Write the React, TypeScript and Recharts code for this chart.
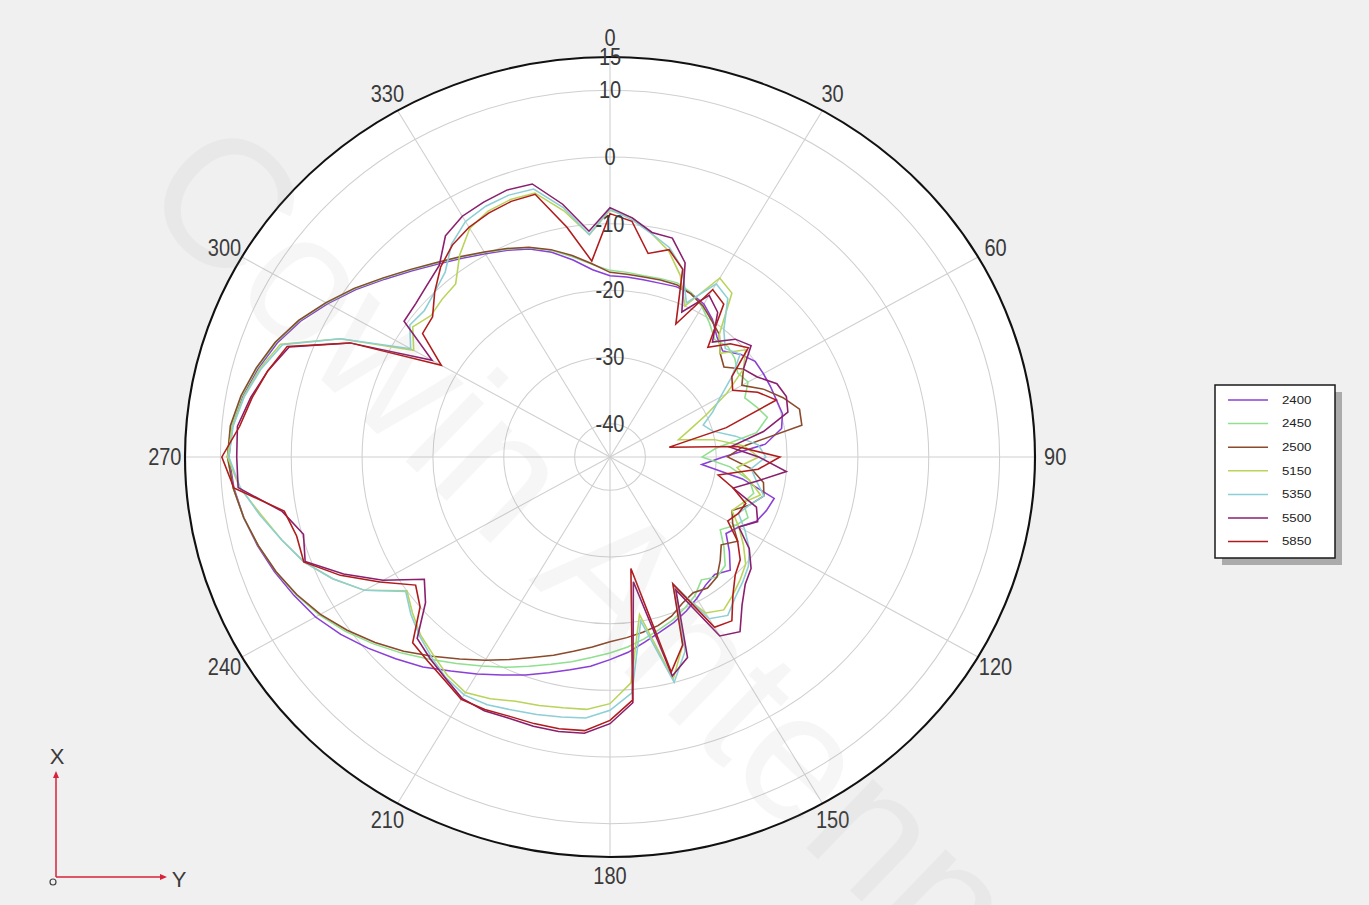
import React from 'react'
import { PolarAngleAxis, PolarGrid, PolarRadiusAxis, Radar, RadarChart } from 'recharts'

// polar plot geometry (the source picture is stretched a little in x)
const CX = 610
const CY = 457
const OUTER = 400
const STRETCH = 1.0625
const FONT = '"Liberation Sans", Arial, sans-serif'

const dbDomain = [-45, 15]
const ringLevels = [-40, -30, -20, -10, 0, 10]
const radiusLabels = [-40, -30, -20, -10, 0, 10, 15]
const spokeAngles = [0, 30, 60, 90, 120, 150, 180, 210, 240, 270, 300, 330]

// measurement angles, 5 degree steps, clockwise from top
const angles = Array.from({ length: 72 }, (_, i) => i * 5)

const gain2400 = [
  -17.8, -17.9, -18, -18, -17.8, -17.9, -18.5, -19.8, -21.5, -22.5,
  -21, -20, -20, -20, -20, -19.8, -20.4, -23, -29, -32,
  -26, -21, -21.5, -22.2, -24, -25, -23, -21, -22, -21.5,
  -20.5, -19.5, -18.6, -17.8, -16.8, -15.6, -14.6, -13.5, -12.6, -11.5,
  -10.2, -8.9, -7.4, -5.8, -3.9, -2.2, -0.4, 1.4, 3.0, 4.2,
  5.4, 6.5, 7.5, 8.3, 8.8, 8.5, 7.6, 6.4, 5.0, 3.2,
  1.0, -1.2, -3.5, -5.5, -7.2, -8.6, -9.8, -10.8, -11.8, -13.2,
  -15.0, -16.8
]
const gain2450 = [
  -17, -17.2, -17.4, -17.3, -17.2, -17.8, -19, -20.5, -22, -21.5,
  -22, -23, -22.5, -24, -23, -22, -24, -30, -32, -28,
  -25, -24, -25, -23.5, -24.5, -26, -24, -22, -21.5, -22.5,
  -21, -20, -19, -18.2, -17.3, -16.4, -15.6, -14.8, -13.8, -12.8,
  -11.6, -10.2, -8.8, -7.2, -5.4, -3.4, -1.4, 0.6, 2.4, 3.9,
  5.2, 6.4, 7.5, 8.4, 9.0, 8.7, 7.8, 6.6, 5.2, 3.4,
  1.2, -1.0, -3.3, -5.3, -7.0, -8.4, -9.6, -10.6, -11.6, -12.9,
  -14.5, -16
]
const gain2500 = [
  -17.3, -17.5, -17.6, -17.5, -17.5, -18, -18.8, -20, -21, -23,
  -24, -22, -23.5, -21, -19, -17.3, -17.5, -26, -28.4, -25,
  -23, -22.5, -24, -26, -25, -23, -24.5, -23, -21.5, -21,
  -21.5, -20.8, -19.6, -18.8, -18.3, -17.8, -17.3, -16.4, -15.4, -14.2,
  -13, -11.5, -9.8, -8, -6, -3.8, -1.7, 0.3, 2.2, 3.8,
  5.2, 6.4, 7.5, 8.4, 9.0, 8.8, 7.9, 6.7, 5.3, 3.5,
  1.3, -0.9, -3.2, -5.2, -6.9, -8.3, -9.5, -10.5, -11.5, -12.8,
  -14.3, -15.9
]
const gain5150 = [
  -8, -9, -11, -13, -16, -20, -14, -15, -21, -23,
  -20, -22, -26, -30, -33, -35, -30, -26, -24, -27,
  -25, -23, -25, -26, -24, -22, -20, -19, -18, -17,
  -18, -23, -15, -10.5, -21, -11, -8, -7, -6.8, -6.4,
  -6, -5, -4.2, -5, -6.2, -7.2, -8.6, -10, -5, -1.8,
  1, 3, 5, 7.5, 9, 8.5, 7.5, 6.2, 4.5, -3,
  -13, -11, -12, -11.5, -11.1, -8, -5.4, -4.3, -3.9, -4,
  -7.5, -11.5
]
const gain5350 = [
  -7.8, -9.3, -11, -12.5, -15, -19.5, -15, -16, -20, -22,
  -21, -24, -27, -29, -31, -30, -27, -24, -23, -25,
  -24, -22.5, -24, -25, -23, -21, -19.5, -18.5, -17.5, -16,
  -17, -24, -14, -10, -20, -9.5, -7, -5.7, -5.4, -5,
  -4.6, -4, -3.8, -4.6, -5.8, -7, -8.3, -9.8, -5, -1.8,
  1, 3, 5.2, 7.4, 8.8, 8.4, 7.4, 6, 4.2, -3,
  -12.5, -10.5, -10.8, -10, -8.8, -6, -4.2, -3.5, -3.2, -3.4,
  -7, -11.5
]
const gain5500 = [
  -7.6, -9, -10.8, -11, -14, -21, -17, -18.5, -22.5, -20,
  -19, -22, -21, -19, -18.5, -19, -23, -28, -24, -20,
  -24, -27, -23, -22, -24, -21, -19, -18, -16, -13,
  -14, -23, -13, -11, -26, -8, -5, -3.4, -3.2, -3.2,
  -3.3, -3, -3.2, -4.5, -5.5, -6.5, -11, -13, -8, -3.5,
  0.8, -0.2, 2, 7.7, 7.7, 7.8, 6.5, 5, 3.2, -4.5,
  -16, -9.5, -9.2, -8.5, -7.5, -4.5, -3.3, -2.8, -2.4, -2.6,
  -6.5, -11
]
const gain5850 = [
  -8.5, -9.5, -14, -12.8, -15, -23, -16, -17, -23.5, -21,
  -19.5, -24, -25, -22, -20, -28, -36.5, -27, -21, -24,
  -29.5, -27, -24.6, -25, -25.8, -23, -21, -20, -18, -15,
  -15.5, -24, -15, -11.6, -28, -8.4, -5.5, -3.8, -3.6, -3.6,
  -3.6, -3.2, -3.0, -4.2, -5, -5.6, -10, -11.5, -7.5, -3,
  1.0, 0.8, 1.7, 8.3, 9.8, 7.5, 6.3, 5.0, 3.5, -4.5,
  -17.5, -12.7, -12.3, -10, -7.8, -6.2, -5.2, -4.6, -4.2, -4.2,
  -10, -15.5
]

const series = [
  { name: '2400', color: '#8a3fd6', values: gain2400 },
  { name: '2450', color: '#8fe08f', values: gain2450 },
  { name: '2500', color: '#8b4a2b', values: gain2500 },
  { name: '5150', color: '#b9d45a', values: gain5150 },
  { name: '5350', color: '#8ccfd6', values: gain5350 },
  { name: '5500', color: '#8a1f6e', values: gain5500 },
  { name: '5850', color: '#b01c1c', values: gain5850 }
]

const rows = angles.map((angle, i) => {
  const row: Record<string, number> = { angle }
  series.forEach((s) => {
    row[s.name] = s.values[i]
  })
  return row
})

const dbToRadius = (v: number) => ((v - dbDomain[0]) / (dbDomain[1] - dbDomain[0])) * OUTER

function AngleTick(props: any) {
  const { x, y, payload } = props
  if (payload.value % 30 !== 0) return <g />
  return (
    <g transform={`translate(${x},${y}) scale(${1 / STRETCH},1.18)`}>
      <text x={0} y={0} textAnchor="middle" dominantBaseline="central" fontSize={20} fill="#3a3a3a" fontFamily={FONT}>
        {payload.value}
      </text>
    </g>
  )
}

function RadiusTick(props: any) {
  const { x, y, payload } = props
  if (!radiusLabels.includes(payload.value)) return <g />
  return (
    <g transform={`translate(${x},${y}) scale(${1 / STRETCH},1.18)`}>
      <text x={0} y={0} textAnchor="middle" dominantBaseline="central" fontSize={20} fill="#3a3a3a" fontFamily={FONT}>
        {payload.value}
      </text>
    </g>
  )
}

function Legend() {
  const left = 1215
  const top = 385
  return (
    <g>
      <rect x={left + 7} y={top + 7} width={120} height={173} fill="#ababab" />
      <rect x={left} y={top} width={120} height={173} fill="#fff" stroke="#1a1a1a" strokeWidth={1.5} />
      {series.map((s, i) => {
        const y = top + 15 + i * 23.6
        return (
          <g key={s.name}>
            <line x1={left + 13} x2={left + 53} y1={y} y2={y} stroke={s.color} strokeWidth={1.5} />
            <text
              transform={`translate(${left + 67},${y}) scale(1.15,1)`}
              dominantBaseline="central"
              fontSize={11.5}
              fill="#222"
              fontFamily={FONT}
            >
              {s.name}
            </text>
          </g>
        )
      })}
    </g>
  )
}

function AxisIndicator() {
  const red = '#d8213b'
  return (
    <g>
      <line x1={56} y1={877} x2={56} y2={775} stroke={red} strokeWidth={1.5} />
      <polygon points="53,778 59,778 56,771" fill={red} />
      <line x1={56} y1={877} x2={163} y2={877} stroke={red} strokeWidth={1.5} />
      <polygon points="160,874 160,880 167,877" fill={red} />
      <circle cx={53} cy={882} r={3} fill="none" stroke="#444" strokeWidth={1.2} />
      <text x={57} y={756} textAnchor="middle" dominantBaseline="central" fontSize={22} fill="#3a3a3a" fontFamily={FONT}>
        X
      </text>
      <text x={179} y={879} textAnchor="middle" dominantBaseline="central" fontSize={22} fill="#3a3a3a" fontFamily={FONT}>
        Y
      </text>
    </g>
  )
}

export default function App() {
  return (
    <div
      style={{
        position: 'absolute',
        left: 0,
        top: 0,
        width: 1369,
        height: 905,
        background: '#f0f0f0',
        overflow: 'hidden',
        fontFamily: FONT
      }}
    >
      <div
        style={{
          position: 'absolute',
          left: 0,
          top: 0,
          width: 1369,
          height: 905,
          transform: `scaleX(${STRETCH})`,
          transformOrigin: `${CX}px ${CY}px`
        }}
      >
        <div
          style={{
            position: 'absolute',
            left: CX - OUTER,
            top: CY - OUTER,
            width: OUTER * 2,
            height: OUTER * 2,
            borderRadius: '50%',
            background: '#fff'
          }}
        />
        <div style={{ position: 'absolute', left: 0, top: 0 }}>
          <RadarChart width={1369} height={905} cx={CX} cy={CY} outerRadius={OUTER} data={rows}>
            <PolarGrid
              gridType="circle"
              stroke="#cfcfcf"
              strokeWidth={1}
              polarRadius={ringLevels.map(dbToRadius)}
              polarAngles={spokeAngles.map((a) => 90 - a)}
            />
            <PolarAngleAxis
              dataKey="angle"
              axisLineType="circle"
              axisLine={{ stroke: '#111', strokeWidth: 2 }}
              tickLine={false}
              tickSize={19}
              tick={<AngleTick />}
            />
            <PolarRadiusAxis
              angle={90}
              type="number"
              domain={dbDomain}
              tickCount={13}
              axisLine={false}
              tick={<RadiusTick />}
            />
            {series.map((s) => (
              <Radar
                key={s.name}
                dataKey={s.name}
                stroke={s.color}
                strokeWidth={1.5}
                fill="none"
                fillOpacity={0}
                dot={false}
                isAnimationActive={false}
              />
            ))}
          </RadarChart>
        </div>
      </div>
      <svg width={1369} height={905} style={{ position: 'absolute', left: 0, top: 0, pointerEvents: 'none' }}>
        <text
          x={135}
          y={200}
          transform="rotate(44 135 200)"
          fontSize={182}
          fontFamily={FONT}
          fill="#9a9a9a"
          opacity={0.08}
        >
          Cowin Antenna
        </text>
        <Legend />
        <AxisIndicator />
      </svg>
    </div>
  )
}
